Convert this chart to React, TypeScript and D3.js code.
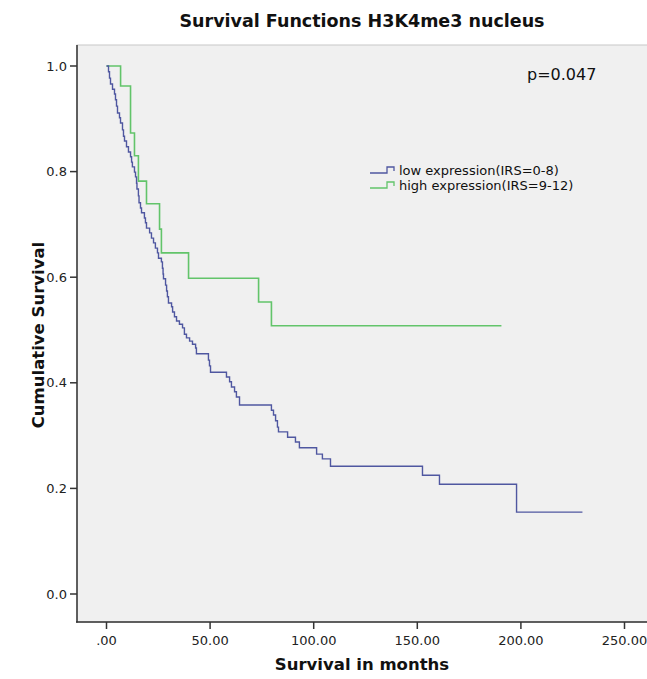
import React, {useEffect, useRef} from 'react';
import * as d3 from 'd3';

// Kaplan-Meier steps: time (months) where survival drops, and the new level
const lowTimes = [0, 0.97, 1.45, 1.93, 2.9, 3.86, 4.34, 4.83, 5.31, 6.27, 6.76, 7.72, 8.2, 8.69, 9.65, 10.6, 11.6,
    12.1, 12.5, 13.5, 14.0, 14.5, 14.7, 15.4, 15.7, 16.4, 16.9, 18.3, 18.8, 19.3, 20.8, 21.7, 22.7, 23.6, 24.6, 25.1,
    26.5, 27.0, 27.3, 27.5, 28.5, 29.0, 29.4, 29.9, 31.4, 31.9, 32.8, 33.8, 35.2, 36.7, 37.6, 38.6, 40.1, 41.5, 43.0,
    43.4, 49.2, 49.7, 50.2, 57.9, 59.4, 60.3, 61.8, 62.7, 64.2, 79.6, 80.6, 81.6, 82.5, 83.0, 87.4, 91.2, 93.1,
    101.4, 104.2, 108.1, 152.5, 160.7, 197.9];
const lowSurv = [1.0, 0.989, 0.977, 0.966, 0.956, 0.947, 0.936, 0.924, 0.911, 0.902, 0.892, 0.879, 0.867, 0.858,
    0.847, 0.837, 0.828, 0.818, 0.809, 0.799, 0.79, 0.778, 0.767, 0.754, 0.741, 0.731, 0.722, 0.712, 0.703, 0.693,
    0.684, 0.674, 0.665, 0.655, 0.646, 0.636, 0.629, 0.617, 0.606, 0.597, 0.585, 0.574, 0.563, 0.551, 0.544, 0.534,
    0.525, 0.517, 0.511, 0.504, 0.492, 0.485, 0.479, 0.473, 0.466, 0.455, 0.443, 0.432, 0.42, 0.411, 0.402, 0.392,
    0.383, 0.373, 0.358, 0.348, 0.339, 0.328, 0.316, 0.307, 0.297, 0.288, 0.277, 0.265, 0.256, 0.242, 0.225, 0.208,
    0.155];
const lowEnd = 229.7;

const highTimes = [0, 6.8, 11.6, 13.5, 15.4, 19.3, 25.6, 26.5, 39.6, 73.4, 79.6];
const highSurv = [1.0, 0.962, 0.873, 0.83, 0.782, 0.739, 0.691, 0.646, 0.598, 0.553, 0.508];
const highEnd = 190.6;

const xTicks = [0, 50, 100, 150, 200, 250];
const yTicks = [0, 0.2, 0.4, 0.6, 0.8, 1.0];
const legendLabels = ['low expression(IRS=0-8)', 'high expression(IRS=9-12)'];

const W = 647, H = 679;
const font = 'DejaVu Sans, sans-serif';

export default function App(){
    const ref = useRef(null);

    useEffect(()=>{
        const svg = d3.select(ref.current);
        svg.selectAll('*').remove();

        const xScale = d3.scaleLinear().domain([0,250]).range([106.5,624.5]);
        const yScale = d3.scaleLinear().domain([0,1]).range([594,66]);

        //plot area, runs off the right edge
        svg.append('rect').attr('x',77).attr('y',45).attr('width',W-77+5).attr('height',577)
            .attr('fill','#f0f0f0').attr('stroke','#c8c8c8').attr('stroke-width',1);
        svg.append('line').attr('x1',77).attr('x2',77).attr('y1',45).attr('y2',622.5)
            .attr('stroke','#333').attr('stroke-width',1.5);
        svg.append('line').attr('x1',76).attr('x2',W).attr('y1',622).attr('y2',622)
            .attr('stroke','#333').attr('stroke-width',1.5);

        //ticks
        const fx = d => d === 0 ? '.00' : d3.format('.2f')(d);
        xTicks.forEach(t=>{
            svg.append('line').attr('x1',xScale(t)).attr('x2',xScale(t)).attr('y1',622).attr('y2',629)
                .attr('stroke','#333').attr('stroke-width',1.5);
            svg.append('text').attr('x',xScale(t)).attr('y',645).attr('text-anchor','middle')
                .attr('font-family',font).attr('font-size',13).attr('fill','#222').text(fx(t));
        });
        yTicks.forEach(t=>{
            svg.append('line').attr('x1',70).attr('x2',77).attr('y1',yScale(t)).attr('y2',yScale(t))
                .attr('stroke','#333').attr('stroke-width',1.5);
            svg.append('text').attr('x',67).attr('y',yScale(t)+4.5).attr('text-anchor','end')
                .attr('font-family',font).attr('font-size',13).attr('fill','#222').text(d3.format('.1f')(t));
        });

        //curves
        const line = d3.line().x(d=>xScale(d[0])).y(d=>yScale(d[1])).curve(d3.curveStepAfter);
        const lowPts = lowTimes.map((t,i)=>[t,lowSurv[i]]);
        lowPts.push([lowEnd, lowSurv[lowSurv.length-1]]);
        const highPts = highTimes.map((t,i)=>[t,highSurv[i]]);
        highPts.push([highEnd, highSurv[highSurv.length-1]]);

        svg.append('path').attr('d',line(highPts)).attr('fill','none')
            .attr('stroke','#62c46a').attr('stroke-width',1.6);
        svg.append('path').attr('d',line(lowPts)).attr('fill','none')
            .attr('stroke','#4f57a0').attr('stroke-width',1.4);

        //legend
        const colors = ['#4f57a0','#62c46a'];
        legendLabels.forEach((lab,i)=>{
            const ly = 170 + i*15;
            svg.append('path')
                .attr('d','M 370,'+(ly+3)+' H 387 V '+(ly-3)+' H 394 V '+(ly+1))
                .attr('fill','none').attr('stroke',colors[i]).attr('stroke-width',1.3);
            svg.append('text').attr('x',399).attr('y',ly+4.5)
                .attr('font-family',font).attr('font-size',13).attr('fill','#111').text(lab);
        });

        svg.append('text').attr('x',527).attr('y',80).attr('font-family',font)
            .attr('font-size',16).attr('fill','#111').text('p=0.047');

        //titles
        svg.append('text').attr('x',362).attr('y',27).attr('text-anchor','middle')
            .attr('font-family',font).attr('font-weight','bold').attr('font-size',17.5).attr('fill','#111')
            .text('Survival Functions H3K4me3 nucleus');
        svg.append('text').attr('x',362).attr('y',670).attr('text-anchor','middle')
            .attr('font-family',font).attr('font-weight','bold').attr('font-size',16.5).attr('fill','#111')
            .text('Survival in months');
        svg.append('text').attr('transform','translate(44,335)rotate(-90)').attr('text-anchor','middle')
            .attr('font-family',font).attr('font-weight','bold').attr('font-size',16.5).attr('fill','#111')
            .text('Cumulative Survival');
    },[]);

    return (
        <svg ref={ref} width={W} height={H}
            style={{position:'absolute',left:0,top:0,background:'white'}}></svg>
    );
}
